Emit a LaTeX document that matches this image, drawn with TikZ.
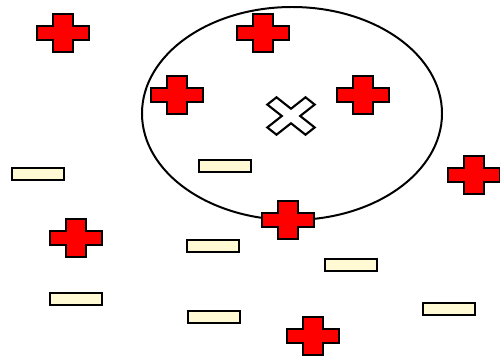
\documentclass[tikz,border=0pt]{standalone}
\usetikzlibrary{positioning, shapes.geometric}
\definecolor{plusred}{RGB}{255,0,0}
\definecolor{minusfill}{RGB}{255,250,212}

\begin{document}
\begin{tikzpicture}[
    x=0.03cm, y=-0.03cm,
    line join=miter,
    region/.style={draw, ellipse, line width=1.7pt, minimum width=9cm, minimum height=6.39cm, inner sep=0},
    minus/.style={draw, fill=minusfill, line width=1.9pt, minimum width=1.56cm, minimum height=0.36cm, inner sep=0},
    plus/.pic={
        \draw[fill=plusred, line width=1.9pt] (-10,-19) -- (10,-19) -- (10,-7) -- (26,-7) -- (26,7) -- (10,7)
            -- (10,19) -- (-10,19) -- (-10,7) -- (-26,7) -- (-26,-7) -- (-10,-7) -- cycle;
    },
    query/.pic={
        \draw[fill=white, line width=1.8pt, yscale=0.79, rotate=45] (-6.5,-27) -- (6.5,-27) -- (6.5,-6.5) -- (27,-6.5)
            -- (27,6.5) -- (6.5,6.5) -- (6.5,27) -- (-6.5,27) -- (-6.5,6.5) -- (-27,6.5) -- (-27,-6.5) -- (-6.5,-6.5) -- cycle;
    },
]
\useasboundingbox (0,0) rectangle (500,358);

% neighbourhood
\node[region] (circle) at (292,113.5) {};

% negative samples
\node[minus] (m1) at (38,174) {};
\node[minus] (m2) at (225,166) {};
\node[minus] (m3) at (213,246) {};
\node[minus] (m4) at (351,265) {};
\node[minus] (m5) at (76,299) {};
\node[minus] (m6) at (214,317) {};
\node[minus] (m7) at (449,309) {};

% positive samples
\pic (p1) at (63,33) {plus};
\pic (p2) at (263,33) {plus};
\pic (p3) at (177,95) {plus};
\pic (p4) at (363,95) {plus};
\pic (p5) at (288,220) {plus};
\pic (p6) at (474,175) {plus};
\pic (p7) at (76,238) {plus};
\pic (p8) at (313,336) {plus};

% test point
\pic (x) at (291,116) {query};
\end{tikzpicture}
\end{document}
